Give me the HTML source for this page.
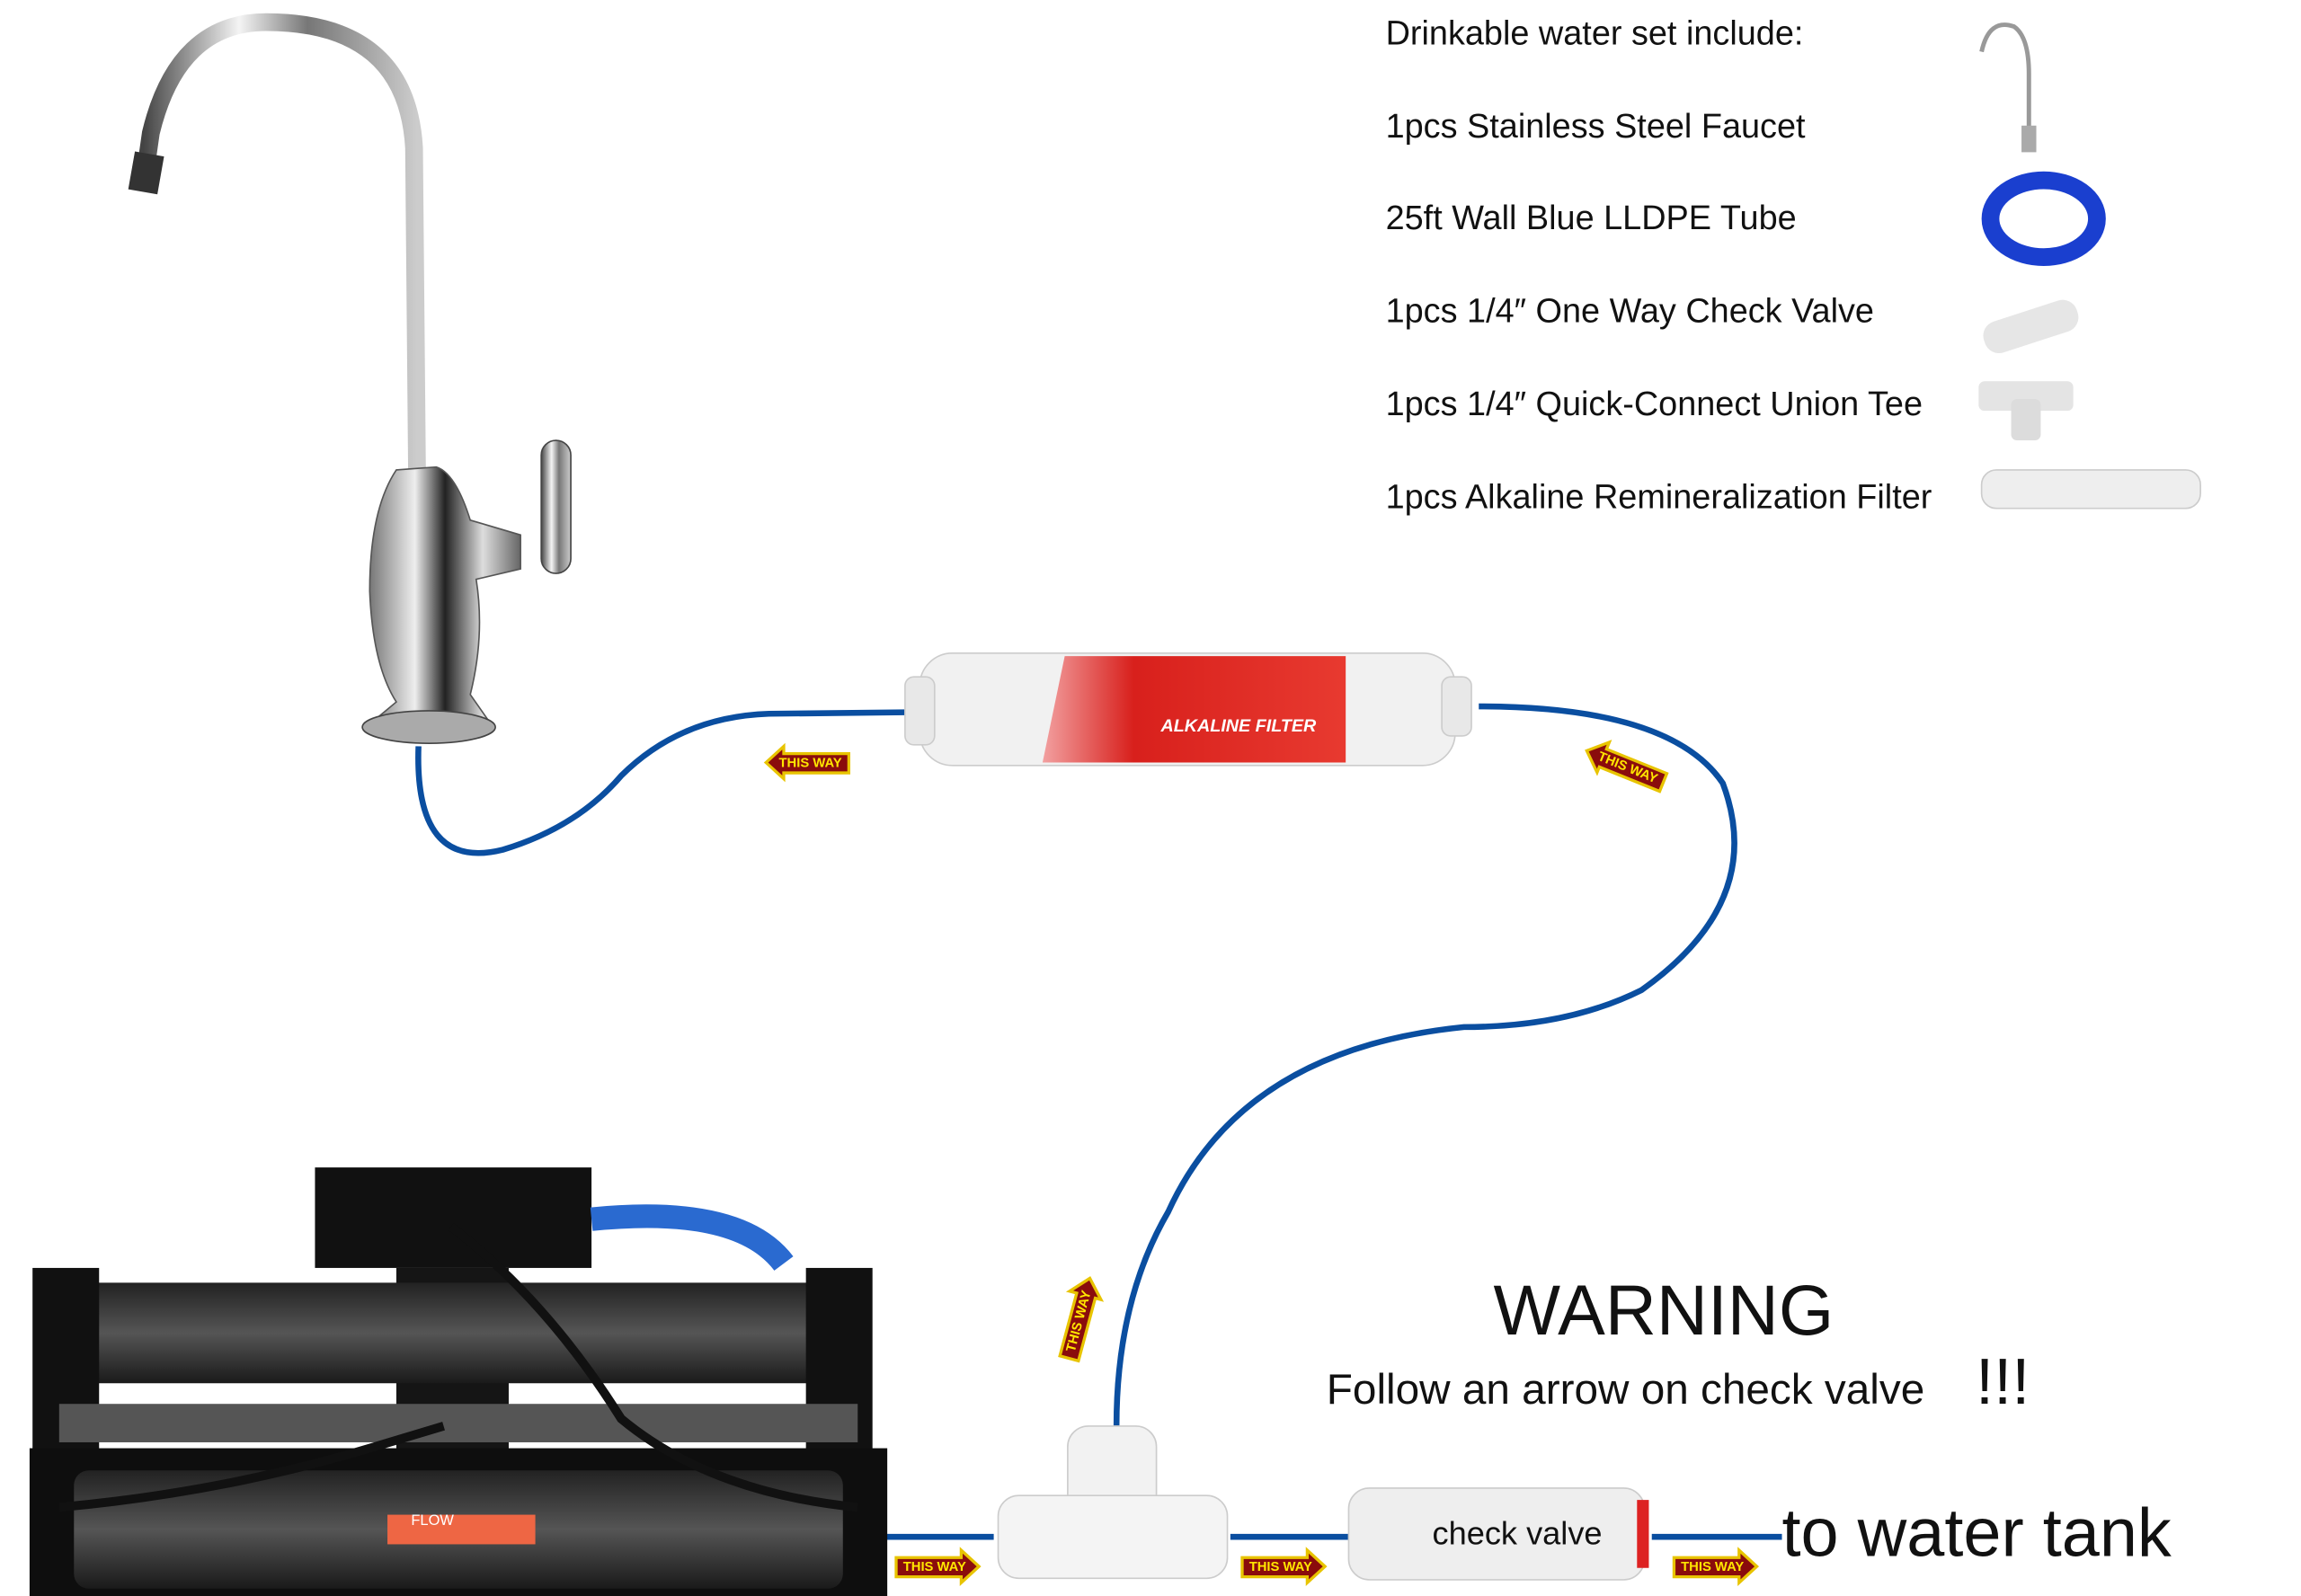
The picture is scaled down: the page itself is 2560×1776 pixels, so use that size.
<!DOCTYPE html>
<html><head><meta charset="utf-8"><style>
html,body{margin:0;padding:0;background:#fff;}
svg{display:block;width:2560px;height:1776px;}
text{font-family:"Liberation Sans",sans-serif;fill:#111;}
</style></head><body>
<svg viewBox="0 0 1556 1080" preserveAspectRatio="none" xmlns="http://www.w3.org/2000/svg">
<defs>
<linearGradient id="chrome" x1="0" x2="1"><stop offset="0" stop-color="#444"/><stop offset=".35" stop-color="#f4f4f4"/><stop offset=".6" stop-color="#777"/><stop offset="1" stop-color="#ccc"/></linearGradient>
<linearGradient id="body" x1="0" x2="1"><stop offset="0" stop-color="#777"/><stop offset=".3" stop-color="#eee"/><stop offset=".5" stop-color="#222"/><stop offset=".75" stop-color="#ddd"/><stop offset="1" stop-color="#666"/></linearGradient>
<linearGradient id="carbon" x1="0" y1="0" x2="0" y2="1"><stop offset="0" stop-color="#222"/><stop offset=".5" stop-color="#555"/><stop offset="1" stop-color="#1a1a1a"/></linearGradient>
<linearGradient id="red" x1="0" x2="1"><stop offset="0" stop-color="#f2a0a0"/><stop offset=".3" stop-color="#d8201c"/><stop offset="1" stop-color="#e83a30"/></linearGradient>
<g id="tw"><polygon points="0,0 12,-11 12,-6 56,-6 56,7 12,7 12,11" fill="#8a0c0c" stroke="#e8c400" stroke-width="2"/><text x="30" y="3" font-size="9" font-weight="bold" text-anchor="middle" style="fill:#ffe600">THIS WAY</text></g>
<g id="twr"><polygon points="0,0 -12,-11 -12,-6 -56,-6 -56,7 -12,7 -12,11" fill="#8a0c0c" stroke="#e8c400" stroke-width="2"/><text x="-30" y="3" font-size="9" font-weight="bold" text-anchor="middle" style="fill:#ffe600">THIS WAY</text></g>
</defs>

<g font-size="23">
<text x="937" y="30">Drinkable water set include:</text>
<text x="937" y="93">1pcs Stainless Steel Faucet</text>
<text x="937" y="155">25ft Wall Blue LLDPE Tube</text>
<text x="937" y="218">1pcs 1/4″ One Way Check Valve</text>
<text x="937" y="281">1pcs 1/4″ Quick-Connect Union Tee</text>
<text x="937" y="344">1pcs Alkaline Remineralization Filter</text>
</g>
<path d="M1340 35 Q1345 12 1362 18 Q1372 25 1372 50 L1372 95" fill="none" stroke="#999" stroke-width="3"/>
<rect x="1367" y="85" width="10" height="18" fill="#aaa"/>
<ellipse cx="1382" cy="148" rx="36" ry="26" fill="none" stroke="#1a3fcf" stroke-width="12"/>
<rect x="1340" y="210" width="66" height="22" rx="10" fill="#e6e6e6" transform="rotate(-18 1373 220)"/>
<rect x="1338" y="258" width="64" height="20" rx="4" fill="#e4e4e4"/><rect x="1360" y="270" width="20" height="28" rx="4" fill="#dcdcdc"/>
<rect x="1340" y="318" width="148" height="26" rx="10" fill="#eee" stroke="#ccc"/>

<!-- faucet -->
<path d="M97 125 L102 90 Q120 15 180 15 Q275 15 280 100 L282 320" fill="none" stroke="url(#chrome)" stroke-width="12"/>
<rect x="89" y="104" width="20" height="26" fill="#333" transform="rotate(10 99 116)"/>
<path d="M268 318 Q250 345 250 400 Q252 450 268 475 L250 490 Q290 505 332 490 L318 470 Q328 430 322 392 L352 385 L352 362 L318 352 Q308 320 295 316 Z" fill="url(#body)" stroke="#555"/>
<rect x="366" y="298" width="20" height="90" rx="10" fill="url(#chrome)" stroke="#444"/>
<ellipse cx="290" cy="492" rx="45" ry="11" fill="#aaa" stroke="#444"/>

<g fill="none" stroke="#0a4ea0" stroke-width="4">
<path d="M283 505 Q280 590 340 575 Q390 560 420 525 Q460 485 520 483 L612 482"/>
<path d="M1000 478 Q1130 478 1165 530 Q1195 610 1110 670 Q1060 695 990 695 Q840 710 790 820 Q755 880 755 965"/>
<path d="M598 1040 L672 1040 M832 1040 L912 1040 M1117 1040 L1205 1040"/>
</g>

<rect x="622" y="442" width="362" height="76" rx="22" fill="#f1f1f1" stroke="#ccc"/>
<rect x="612" y="458" width="20" height="46" rx="6" fill="#e8e8e8" stroke="#ccc"/>
<rect x="975" y="458" width="20" height="40" rx="6" fill="#e8e8e8" stroke="#ccc"/>
<path d="M720 444 L910 444 L910 516 L705 516 Z" fill="url(#red)"/>
<text x="785" y="495" font-size="12" font-weight="bold" font-style="italic" style="fill:#fff">ALKALINE FILTER</text>

<text x="1125" y="903" font-size="48" text-anchor="middle">WARNING</text>
<text x="897" y="950" font-size="29">Follow an arrow on check valve</text>
<text x="1336" y="950" font-size="44">!!!</text>

<!-- RO unit -->
<rect x="213" y="790" width="187" height="68" fill="#111"/>
<path d="M400 825 Q500 815 530 855" fill="none" stroke="#2a6ad0" stroke-width="16"/>
<rect x="268" y="858" width="76" height="140" fill="#151515"/>
<rect x="40" y="868" width="540" height="68" rx="10" fill="url(#carbon)"/>
<rect x="22" y="858" width="45" height="130" fill="#111"/><rect x="545" y="858" width="45" height="130" fill="#111"/>
<rect x="40" y="950" width="540" height="26" fill="#555"/>
<rect x="20" y="980" width="580" height="105" fill="#0e0e0e"/>
<rect x="50" y="995" width="520" height="80" rx="10" fill="url(#carbon)"/>
<rect x="262" y="1025" width="100" height="20" fill="#e64"/>
<text x="278" y="1032" font-size="10" style="fill:#fff">FLOW</text>
<path d="M305 830 Q370 880 420 960 Q480 1010 580 1020" fill="none" stroke="#111" stroke-width="6"/>
<path d="M40 1020 Q150 1010 250 980 L300 965" fill="none" stroke="#111" stroke-width="6"/>

<rect x="722" y="965" width="60" height="60" rx="14" fill="#f2f2f2" stroke="#ccc"/>
<rect x="675" y="1012" width="155" height="56" rx="14" fill="#f4f4f4" stroke="#ccc"/>
<rect x="912" y="1007" width="200" height="62" rx="14" fill="#eee" stroke="#ccc"/>
<rect x="1107" y="1015" width="8" height="46" fill="#d22"/>
<text x="1026" y="1045" font-size="22" text-anchor="middle">check valve</text>
<text x="1205" y="1053" font-size="46">to water tank</text>

<use href="#tw" x="518" y="516"/>
<use href="#tw" transform="translate(1073 508) rotate(22)"/>
<use href="#twr" transform="translate(737 865) rotate(-75)"/>
<use href="#twr" x="662" y="1060"/>
<use href="#twr" x="896" y="1060"/>
<use href="#twr" x="1188" y="1060"/>
</svg>
</body></html>
